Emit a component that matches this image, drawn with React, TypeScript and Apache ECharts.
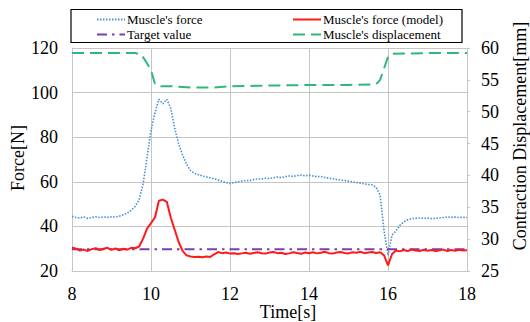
import React, { useEffect, useRef } from "react";
import * as echarts from "echarts";

const forceTime: number[] = [
  8.0, 8.1, 8.2, 8.3, 8.4, 8.5, 8.6, 8.7, 8.8, 8.9,
  9.0, 9.1, 9.2, 9.3, 9.4, 9.5, 9.6, 9.7, 9.8, 9.9,
  10.0, 10.1, 10.2, 10.3, 10.4, 10.5, 10.6, 10.7, 10.8, 10.9,
  11.0, 11.1, 11.2, 11.3, 11.4, 11.5, 11.6, 11.7, 11.8, 11.9,
  12.0, 12.1, 12.2, 12.3, 12.4, 12.5, 12.6, 12.7, 12.8, 12.9,
  13.0, 13.1, 13.2, 13.3, 13.4, 13.5, 13.6, 13.7, 13.8, 13.9,
  14.0, 14.1, 14.2, 14.3, 14.4, 14.5, 14.6, 14.7, 14.8, 14.9,
  15.0, 15.1, 15.2, 15.3, 15.4, 15.5, 15.6, 15.7, 15.8, 15.9,
  16.0, 16.1, 16.2, 16.3, 16.4, 16.5, 16.6, 16.7, 16.8, 16.9,
  17.0, 17.1, 17.2, 17.3, 17.4, 17.5, 17.6, 17.7, 17.8, 17.9,
  18.0,
];

const muscleForce: number[] = [
  44.5, 44.0, 43.8, 44.2, 43.6, 44.0, 44.3, 44.0, 44.2, 44.1,
  44.3, 44.2, 44.6, 45.2, 46.0, 47.2, 49.0, 52.0, 59.0, 71.0,
  83.0, 91.0, 97.0, 95.0, 97.0, 93.0, 84.0, 77.0, 72.0, 68.0,
  65.0, 63.8, 63.2, 62.6, 62.2, 61.8, 61.3, 60.8, 60.2, 59.6,
  59.2, 59.6, 60.0, 60.3, 60.6, 60.5, 61.0, 61.3, 61.2, 61.6,
  61.5, 61.8, 62.1, 61.9, 62.3, 62.6, 62.4, 62.8, 63.0, 62.7,
  62.9, 62.6, 62.3, 62.4, 61.9, 61.6, 61.4, 61.0, 60.8, 60.6,
  60.3, 60.0, 59.7, 59.4, 59.1, 58.8, 58.6, 57.5, 54.0, 38.0,
  27.0, 36.0, 38.0, 40.5, 42.0, 43.0, 43.5, 43.6, 43.8, 43.6,
  43.7, 43.5, 43.6, 43.8, 44.0, 44.2, 44.1, 44.2, 44.0, 44.1,
  44.0,
];

const modelForce: number[] = [
  30.5, 30.0, 29.2, 29.6, 29.0, 29.8, 30.2, 29.4, 30.0, 30.4,
  29.5, 30.1, 29.3, 30.0, 29.6, 30.4, 30.2, 31.0, 34.5, 39.0,
  41.5, 44.0, 51.5, 52.0, 51.0, 44.0, 38.5, 33.0, 29.0, 27.0,
  26.5, 26.3, 26.4, 26.2, 26.5, 26.3, 27.5, 28.5, 28.0, 28.3,
  27.8, 28.0, 27.6, 27.9, 28.2, 27.7, 28.1, 28.4, 28.0, 27.8,
  28.3, 28.5, 28.0, 28.2, 27.6, 27.9, 28.4, 28.1, 27.7, 28.3,
  28.0, 28.4, 27.9, 28.2, 28.6, 28.0, 27.8, 28.3, 28.5, 28.1,
  27.9, 28.4, 28.2, 28.6, 28.0, 28.3, 28.5, 28.1, 28.4, 27.0,
  22.5, 27.5, 29.2, 28.8, 29.4, 29.0, 29.6, 29.2, 29.0, 29.5,
  29.1, 29.4, 28.9, 29.3, 29.6, 29.0, 29.4, 29.1, 29.5, 29.2,
  29.3,
];

const targetTime: number[] = [8, 18];
const targetValue: number[] = [29.7, 29.7];

const dispTime: number[] = [
  8.0, 9.6, 9.75, 9.9, 10.0, 10.1, 10.25, 10.5, 11.0, 11.6,
  12.0, 13.0, 14.0, 15.0, 15.7, 15.8, 15.9, 16.0, 16.1, 17.0, 18.0,
];
const displacement: number[] = [
  59.2, 59.2, 59.0, 57.6, 56.5, 54.4, 54.0, 54.0, 53.8, 53.8,
  54.0, 54.1, 54.2, 54.2, 54.3, 55.0, 56.8, 58.6, 59.1, 59.2, 59.2,
];

const xTicks = { min: 8, max: 18, interval: 2 };
const forceTicks = { min: 20, max: 120, interval: 20 };
const dispTicks = { min: 25, max: 60, interval: 5 };

const xTitle = "Time[s]";
const yLeftTitle = "Force[N]";
const yRightTitle = "Contraction Displacement[mm]";

const zip = (xs: number[], ys: number[]) => xs.map((x, i) => [x, ys[i]]);

const FONT = "'Liberation Serif', 'Times New Roman', serif";
const GRID_COLOR = "#c6c6c6";

const legendBase = {
  z: 10,
  orient: "vertical",
  top: 13,
  padding: 0,
  itemWidth: 28,
  itemHeight: 14,
  itemGap: 2,
  itemStyle: { opacity: 0 },
  textStyle: { fontFamily: FONT, fontSize: 13, color: "#000", padding: [0, 0, 0, -3] },
};

const titleStyle = {
  fontFamily: FONT,
  fontSize: 18,
  lineHeight: 16,
  fill: "#000",
  align: "center",
  verticalAlign: "middle",
};

export default function App() {
  const ref = useRef<HTMLDivElement>(null);
  useEffect(() => {
    if (!ref.current) return;
    const chart = echarts.init(ref.current, undefined, { renderer: "svg" });
    chart.setOption({
      animation: false,
      backgroundColor: "#ffffff",
      textStyle: { fontFamily: FONT, color: "#000" },
      grid: {
        left: 72,
        right: 63,
        top: 48,
        bottom: 51,
        containLabel: false,
        outerBoundsMode: "none",
      },
      graphic: [
        {
          type: "rect",
          z: 5,
          shape: { x: 71, y: 9.5, width: 391, height: 33 },
          style: { fill: "#ffffff", stroke: "#000000", lineWidth: 1.2 },
        },
        { type: "text", x: 288, y: 312, style: { ...titleStyle, text: xTitle } },
        { type: "text", x: 18, y: 158, rotation: Math.PI / 2, style: { ...titleStyle, text: yLeftTitle } },
        { type: "text", x: 520, y: 136, rotation: Math.PI / 2, style: { ...titleStyle, text: yRightTitle } },
      ],
      legend: [
        { ...legendBase, left: 96, data: ["Muscle's force", "Target value"] },
        { ...legendBase, left: 292, data: ["Muscle's force (model)", "Muscle's displacement"] },
      ],
      xAxis: {
        type: "value",
        min: xTicks.min,
        max: xTicks.max,
        interval: xTicks.interval,
        axisLine: { show: true, lineStyle: { color: GRID_COLOR, width: 1 } },
        axisTick: { show: false },
        axisLabel: { fontFamily: FONT, fontSize: 18, lineHeight: 14, color: "#000", margin: 16 },
        splitLine: { show: true, lineStyle: { color: GRID_COLOR, width: 1 } },
      },
      yAxis: [
        {
          type: "value",
          min: forceTicks.min,
          max: forceTicks.max,
          interval: forceTicks.interval,
          axisLine: { show: true, lineStyle: { color: GRID_COLOR, width: 1 } },
          axisTick: { show: false },
          axisLabel: { fontFamily: FONT, fontSize: 18, color: "#000", margin: 14 },
          splitLine: { show: true, lineStyle: { color: GRID_COLOR, width: 1 } },
        },
        {
          type: "value",
          position: "right",
          min: dispTicks.min,
          max: dispTicks.max,
          interval: dispTicks.interval,
          axisLine: { show: true, lineStyle: { color: GRID_COLOR, width: 1 } },
          axisTick: { show: true, length: 3, inside: false, lineStyle: { color: GRID_COLOR } },
          axisLabel: { fontFamily: FONT, fontSize: 18, color: "#000", margin: 14 },
          splitLine: { show: false },
        },
      ],
      series: [
        {
          name: "Muscle's force",
          type: "line",
          yAxisIndex: 0,
          symbol: "none",
          data: zip(forceTime, muscleForce),
          lineStyle: { color: "#4a8fd0", width: 1.6, type: [1.5, 1.5] },
          itemStyle: { color: "#4a8fd0" },
          z: 2,
        },
        {
          name: "Muscle's force (model)",
          type: "line",
          yAxisIndex: 0,
          symbol: "none",
          data: zip(forceTime, modelForce),
          lineStyle: { color: "#ff1a1a", width: 2 },
          itemStyle: { color: "#ff1a1a" },
          z: 4,
        },
        {
          name: "Target value",
          type: "line",
          yAxisIndex: 0,
          symbol: "none",
          data: zip(targetTime, targetValue),
          lineStyle: { color: "#7a3fb0", width: 2, type: [10, 5, 2.5, 5] },
          itemStyle: { color: "#7a3fb0" },
          z: 3,
        },
        {
          name: "Muscle's displacement",
          type: "line",
          yAxisIndex: 1,
          symbol: "none",
          data: zip(dispTime, displacement),
          lineStyle: { color: "#2fb877", width: 2, type: [12, 6] },
          itemStyle: { color: "#2fb877" },
          z: 3,
        },
      ],
    });
    return () => chart.dispose();
  }, []);
  return (
    <div
      ref={ref}
      style={{ position: "fixed", left: 0, top: 0, width: 530, height: 322 }}
    />
  );
}
